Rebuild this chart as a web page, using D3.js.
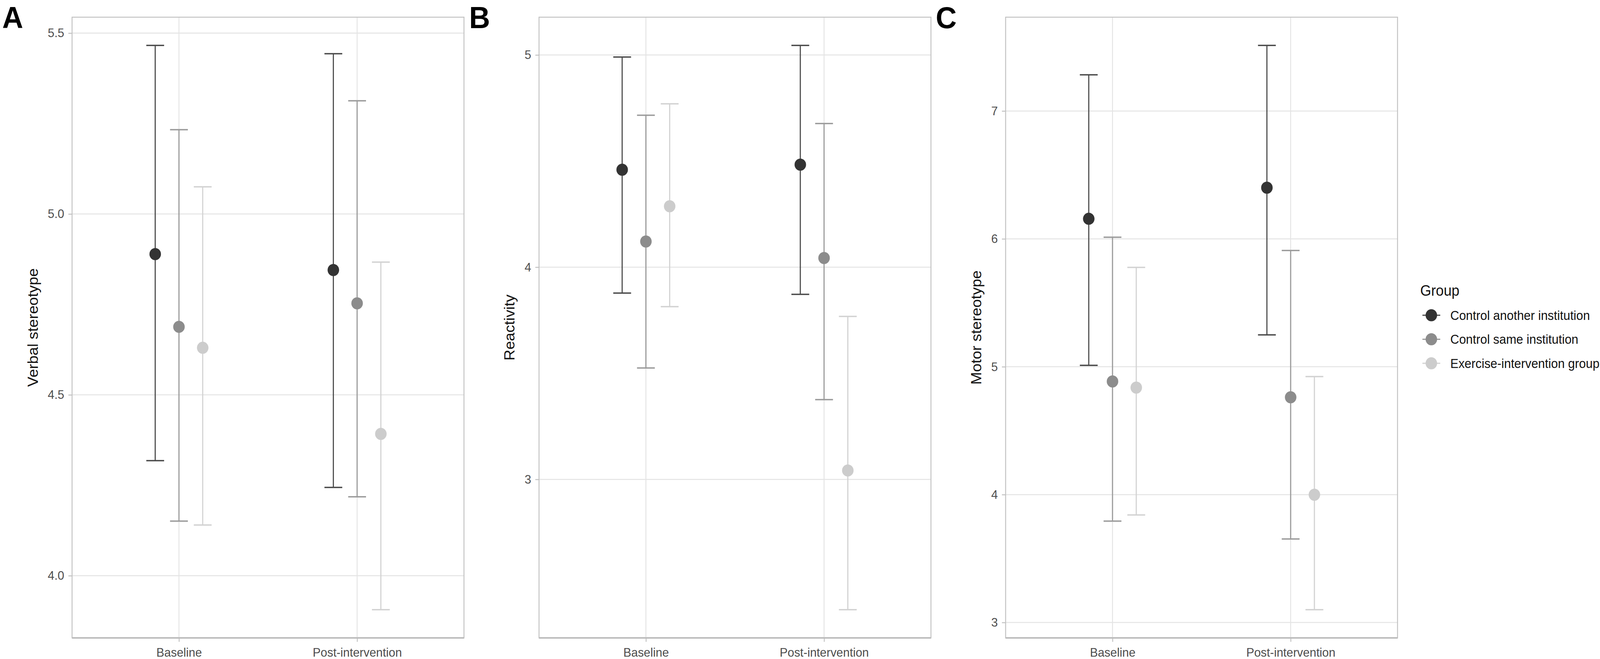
<!DOCTYPE html>
<html>
<head>
<meta charset="utf-8">
<script src="https://cdn.jsdelivr.net/npm/d3@7"></script>
<style>
  html, body { margin: 0; padding: 0; background: #ffffff; overflow: hidden; width: 100%; height: 100%; }
  svg { display: block; width: 100vw; height: 100vh; }
  text { font-family: "Liberation Sans", Arial, Helvetica, sans-serif; }
</style>
</head>
<body>
<svg id="chart" viewBox="0 0 4307 1687" preserveAspectRatio="none"></svg>
<script>
// ---------------- DATA ----------------
const groups = ["Control another institution", "Control same institution", "Exercise-intervention group"];
const timepoints = ["Baseline", "Post-intervention"];
const panelLabels = ["A", "B", "C"];
const yTitles = ["Verbal stereotype", "Reactivity", "Motor stereotype"];

// values indexed [timepoint][group]
const verbalMean  = [[4.889, 4.688, 4.630], [4.845, 4.753, 4.392]];
const verbalLower = [[4.318, 4.151, 4.140], [4.244, 4.218, 3.906]];
const verbalUpper = [[5.466, 5.233, 5.075], [5.443, 5.313, 4.867]];
const verbalTicks = [4.0, 4.5, 5.0, 5.5];

const reactMean  = [[4.459, 4.121, 4.287], [4.483, 4.043, 3.042]];
const reactLower = [[3.878, 3.525, 3.814], [3.872, 3.376, 2.386]];
const reactUpper = [[4.990, 4.716, 4.770], [5.045, 4.677, 3.768]];
const reactTicks = [3, 4, 5];

const motorMean  = [[6.157, 4.885, 4.837], [6.400, 4.761, 3.999]];
const motorLower = [[5.011, 3.793, 3.841], [5.249, 3.653, 3.100]];
const motorUpper = [[7.283, 6.013, 5.777], [7.513, 5.909, 4.923]];
const motorTicks = [3, 4, 5, 6, 7];

const tickFormats = [".1f", "d", "d"];

// ---------------- STYLE / LAYOUT ----------------
const groupFill = ["#333333", "#8c8c8c", "#cccccc"];
const groupLine = ["#4a4a4a", "#9a9a9a", "#d2d2d2"];
const gridColor = "#e4e4e4";
const borderColor = "#c2c2c2";
const panelLefts = [194, 1451, 2707];
const panelWidth = 1055;
const panelTop = 44, panelBottom = 1633;

const svg = d3.select("#chart");

const panels = [
  {mean: verbalMean, lo: verbalLower, hi: verbalUpper, ticks: verbalTicks},
  {mean: reactMean,  lo: reactLower,  hi: reactUpper,  ticks: reactTicks},
  {mean: motorMean,  lo: motorLower,  hi: motorUpper,  ticks: motorTicks}
];

const dodgeWidth = 0.4;
const capHalf = 0.05;

panels.forEach((p, pi) => {
  const left = panelLefts[pi], right = left + panelWidth;
  const g = svg.append("g");

  // y domain: data extent with 5% expansion (ggplot default)
  const allVals = p.lo.flat().concat(p.hi.flat());
  const mn = d3.min(allVals), mx = d3.max(allVals);
  const pad = (mx - mn) * 0.05;
  const y = d3.scaleLinear().domain([mn - pad, mx + pad]).range([panelBottom, panelTop]);
  // discrete x: categories at 1,2 with 0.6 additive expansion
  const x = d3.scaleLinear().domain([0.4, timepoints.length + 0.6]).range([left, right]);

  // grid
  g.selectAll(".hgrid").data(p.ticks).enter().append("line")
    .attr("x1", left).attr("x2", right)
    .attr("y1", d => y(d)).attr("y2", d => y(d))
    .attr("stroke", gridColor).attr("stroke-width", 2.5);
  g.selectAll(".vgrid").data(timepoints).enter().append("line")
    .attr("x1", (d, i) => x(i + 1)).attr("x2", (d, i) => x(i + 1))
    .attr("y1", panelTop).attr("y2", panelBottom)
    .attr("stroke", gridColor).attr("stroke-width", 2.5);

  // axes
  const yAxis = g.append("g").attr("transform", `translate(${left},0)`)
    .call(d3.axisLeft(y).tickValues(p.ticks).tickSize(10).tickPadding(11)
      .tickFormat(d3.format(tickFormats[pi])));
  yAxis.select(".domain").remove();
  yAxis.selectAll("line").attr("stroke", borderColor).attr("stroke-width", 2.5);
  yAxis.selectAll("text").attr("fill", "#4d4d4d").style("font-size", "32px")
    .style("font-family", "'Liberation Sans', Arial, sans-serif");

  const xAxis = g.append("g").attr("transform", `translate(0,${panelBottom})`)
    .call(d3.axisBottom(x).tickValues(timepoints.map((d, i) => i + 1)).tickSize(10).tickPadding(15)
      .tickFormat(d => timepoints[d - 1]));
  xAxis.select(".domain").remove();
  xAxis.selectAll("line").attr("stroke", borderColor).attr("stroke-width", 2.5);
  xAxis.selectAll("text").attr("fill", "#4d4d4d").style("font-size", "32px")
    .style("font-family", "'Liberation Sans', Arial, sans-serif");

  // panel border
  g.append("rect").attr("x", left).attr("y", panelTop)
    .attr("width", panelWidth).attr("height", panelBottom - panelTop)
    .attr("fill", "none").attr("stroke", borderColor).attr("stroke-width", 2.5);
  g.append("line").attr("x1", left).attr("x2", right)
    .attr("y1", panelBottom).attr("y2", panelBottom)
    .attr("stroke", "#bcbcbc").attr("stroke-width", 4);

  // y title
  const bb = yAxis.node().getBBox();
  g.append("text")
    .attr("transform", `translate(${left + bb.x - 27},${(panelTop + panelBottom) / 2}) rotate(-90)`)
    .attr("text-anchor", "middle")
    .attr("fill", "#111111")
    .style("font-size", "39px")
    .text(yTitles[pi]);

  // panel label
  g.append("text")
    .attr("x", left - 188).attr("y", 72)
    .attr("fill", "#000000")
    .style("font-size", "78px").style("font-weight", "bold")
    .text(panelLabels[pi]);

  // data rows
  const rows = [];
  timepoints.forEach((t, ti) => {
    groups.forEach((gr, gi) => {
      rows.push({ti, gi, xc: ti + 1 + (gi - 1) * dodgeWidth / 3,
        m: p.mean[ti][gi], lo: p.lo[ti][gi], hi: p.hi[ti][gi]});
    });
  });

  const eb = g.selectAll(".eb").data(rows).enter().append("g");
  eb.append("line")
    .attr("x1", d => x(d.xc)).attr("x2", d => x(d.xc))
    .attr("y1", d => y(d.lo)).attr("y2", d => y(d.hi))
    .attr("stroke", d => groupLine[d.gi]).attr("stroke-width", 3);
  eb.append("line")
    .attr("x1", d => x(d.xc - capHalf)).attr("x2", d => x(d.xc + capHalf))
    .attr("y1", d => y(d.hi)).attr("y2", d => y(d.hi))
    .attr("stroke", d => groupLine[d.gi]).attr("stroke-width", 3.5);
  eb.append("line")
    .attr("x1", d => x(d.xc - capHalf)).attr("x2", d => x(d.xc + capHalf))
    .attr("y1", d => y(d.lo)).attr("y2", d => y(d.lo))
    .attr("stroke", d => groupLine[d.gi]).attr("stroke-width", 3.5);

  g.selectAll(".pt").data(rows).enter().append("circle")
    .attr("cx", d => x(d.xc)).attr("cy", d => y(d.m))
    .attr("r", 15.5).attr("fill", d => groupFill[d.gi]);
});

// ---------------- LEGEND ----------------
const leg = svg.append("g").attr("transform", "translate(3823,0)");
leg.append("text").attr("x", 0).attr("y", 757)
  .attr("fill", "#111111").style("font-size", "38px").text("Group");
const legRow = d3.scaleLinear().domain([0, 2]).range([807, 930]);
const li = leg.selectAll(".li").data(groups).enter().append("g")
  .attr("transform", (d, i) => `translate(0,${legRow(i)})`);
li.append("line").attr("x1", 6).attr("x2", 54).attr("y1", 0).attr("y2", 0)
  .attr("stroke", (d, i) => groupLine[i]).attr("stroke-width", 3);
li.append("circle").attr("cx", 30).attr("cy", 0).attr("r", 15.5)
  .attr("fill", (d, i) => groupFill[i]);
li.append("text").attr("x", 81).attr("y", 0).attr("dy", "0.36em")
  .attr("fill", "#111111").style("font-size", "33px").text(d => d);
</script>
</body>
</html>
